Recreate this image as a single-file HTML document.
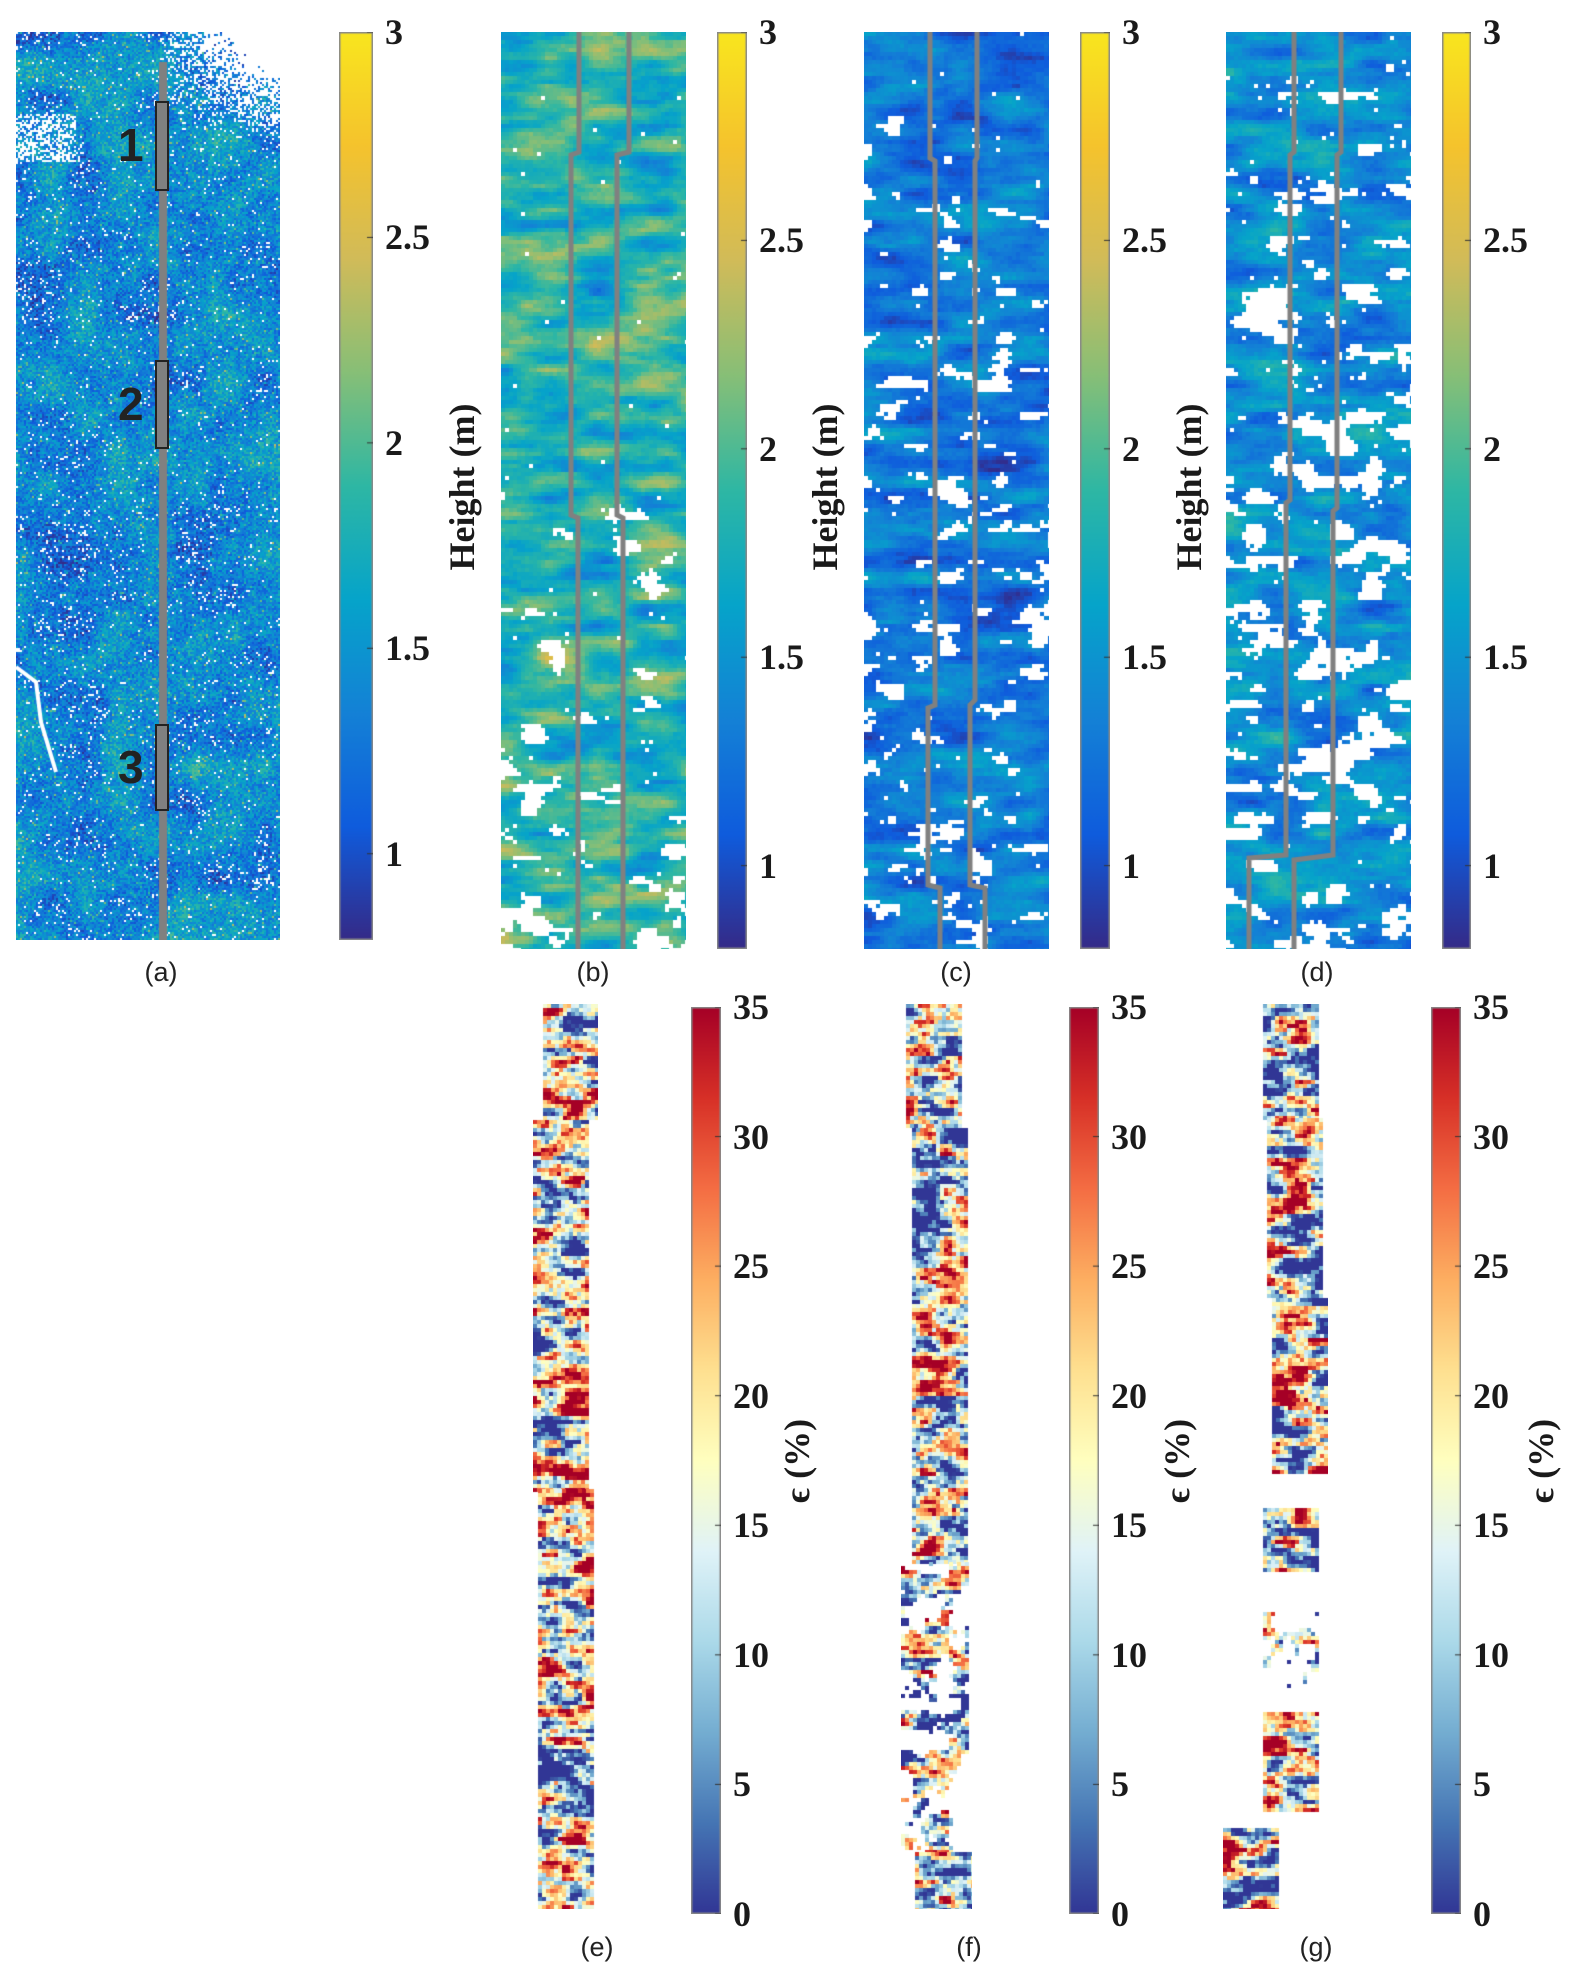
<!DOCTYPE html>
<html><head><meta charset="utf-8">
<style>
html,body{margin:0;padding:0;background:#fff;}
body{width:1585px;height:1978px;position:relative;overflow:hidden;font-family:"Liberation Serif",serif;}
.abs{position:absolute;}
canvas{position:absolute;}
.tick{position:absolute;font-family:"Liberation Serif",serif;font-weight:bold;font-size:36px;color:#1a1a1a;line-height:1;}
.cap{position:absolute;font-family:"Liberation Sans",sans-serif;font-size:27px;color:#222;transform:translateX(-50%);}
.ylab{position:absolute;font-family:"Liberation Serif",serif;font-weight:bold;font-size:36px;color:#1a1a1a;transform:translate(-50%,-50%) rotate(-90deg);white-space:nowrap;}
.num{position:absolute;font-family:"Liberation Sans",sans-serif;font-weight:bold;font-size:46px;color:#222;}
</style></head>
<body>
<div id="root"></div>
<script>
// ---- data arrays ----
const heightTicks = [1, 1.5, 2, 2.5, 3];
const heightTickLabels = ["1", "1.5", "2", "2.5", "3"];
const heightRange = [0.8, 3];
const strainTicks = [0, 5, 10, 15, 20, 25, 30, 35];
const strainTickLabels = ["0", "5", "10", "15", "20", "25", "30", "35"];
const strainRange = [0, 35];
const panelCaptions = ["(a)", "(b)", "(c)", "(d)", "(e)", "(f)", "(g)"];
const panelMeans = [1.4, 1.85, 1.3, 1.45];
const strainMeans = [16, 13, 14];

const root = document.getElementById('root');
const parula = [[53,42,135],[15,92,221],[20,129,214],[6,164,202],[46,183,164],[135,191,119],[209,187,89],[245,195,45],[249,230,30]];
const rdylbu = [[49,54,149],[69,117,180],[116,173,209],[171,217,233],[224,243,248],[255,255,191],[254,224,144],[253,174,97],[244,109,67],[215,48,39],[165,0,38]];
function cmap(stops,t){t=Math.max(0,Math.min(1,t));const f=t*(stops.length-1);const i=Math.min(stops.length-2,Math.floor(f));const u=f-i;const a=stops[i],b=stops[i+1];return [a[0]+(b[0]-a[0])*u|0,a[1]+(b[1]-a[1])*u|0,a[2]+(b[2]-a[2])*u|0];}
function hash(x,y,s){let h=(x*374761393+y*668265263+s*1442695041)|0;h=(h^(h>>>13))*1274126177|0;h=h^(h>>>16);return ((h>>>0)%100000)/100000;}
function vnoise(x,y,s){const xi=Math.floor(x),yi=Math.floor(y);const xf=x-xi,yf=y-yi;const u=xf*xf*(3-2*xf),v=yf*yf*(3-2*yf);
 const a=hash(xi,yi,s),b=hash(xi+1,yi,s),c=hash(xi,yi+1,s),d=hash(xi+1,yi+1,s);return a+(b-a)*u+(c-a)*v+(a-b-c+d)*u*v;}
function fbm(x,y,s){return (vnoise(x,y,s)*0.55+vnoise(x*2.1,y*2.1,s+7)*0.3+vnoise(x*4.3,y*4.3,s+13)*0.15);}

function mkCanvas(name,x,y,w,h){const c=document.createElement('canvas');c.width=w;c.height=h;c.style.left=x+'px';c.style.top=y+'px';
 
 
 root.appendChild(c);return c.getContext('2d');}
function rgb(c){return 'rgb('+c[0]+','+c[1]+','+c[2]+')';}
function hnorm(v){return (v-heightRange[0])/(heightRange[1]-heightRange[0]);}

// ---- panel (a) ----
(function(){const x0=16,y0=32,w=264,h=908;const ctx=mkCanvas('map-overview',x0,y0,w,h);
 for(let y=0;y<h;y+=2)for(let x=0;x<w;x+=2){
  const n=fbm(x/35,y/35,3);const r=hash(x,y,9);
  let white=r<0.025+(n<0.38?0.08:0);
  if(x>w*0.5&&y<110&&hash(x,y,4)<(x-w*0.5)/(w*0.5)*(1-y/110)*1.6)white=true;
  if(x<60&&y>80&&y<130&&hash(x,y,6)<0.5)white=true;
  if(white)continue;
  let v=panelMeans[0]+1.0*(n-0.5)+0.6*(hash(x,y,11)-0.5);
  if(hash(x,y,12)<0.04)v+=0.5;
  ctx.fillStyle=rgb(cmap(parula,hnorm(v)));ctx.fillRect(x,y,2,2);}
 ctx.strokeStyle='#fff';ctx.lineWidth=4;ctx.beginPath();ctx.moveTo(0,635);ctx.lineTo(20,650);ctx.lineTo(25,690);ctx.lineTo(40,740);ctx.stroke();
 ctx.fillStyle='#808080';ctx.fillRect(143,30,8,h-30);
})();
[[101,187,'1'],[360,445,'2'],[724,807,'3']].forEach((b)=>{
 const d=document.createElement('div');d.className='abs';d.style.cssText=`left:155px;top:${b[0]}px;width:10px;height:${b[1]-b[0]}px;border:2px solid #222;background:#808080;`;
 
 
 root.appendChild(d);
 const t=document.createElement('div');t.className='num';t.textContent=b[2];t.style.left='118px';t.style.top=(b[0]+(b[1]-b[0])/2-26)+'px';
 
 
 root.appendChild(t);});

// ---- panels b,c,d ----
const hmPanels=[
 {name:'height-map-b',x:501,seed:21,mean:panelMeans[1],holeStart:440,holeT:0.37,amp:1.5,
  lines:[[[579,32],[579,152],[571,155],[571,515],[578,518],[578,949]],[[629,32],[629,152],[617,155],[617,515],[623,518],[623,949]]]},
 {name:'height-map-c',x:864,seed:41,mean:panelMeans[2],holeStart:80,holeT:0.35,amp:1.1,
  lines:[[[930,32],[930,158],[935,161],[935,705],[928,708],[928,885],[940,888],[940,949]],[[977,32],[977,158],[975,161],[975,700],[970,705],[970,885],[985,888],[985,949]]]},
 {name:'height-map-d',x:1226,seed:61,mean:panelMeans[3],holeStart:20,holeT:0.38,amp:1.2,
  lines:[[[1294,32],[1294,152],[1290,155],[1290,500],[1286,503],[1286,855],[1249,858],[1249,949]],[[1341,32],[1341,152],[1337,155],[1337,508],[1333,511],[1333,855],[1294,860],[1294,949]]]}
];
hmPanels.forEach(p=>{const y0=32,w=185,h=917;const ctx=mkCanvas(p.name,p.x,y0,w,h);
 for(let y=0;y<h;y+=4)for(let x=0;x<w;x+=4){
  const n=fbm(x/50,y/16,p.seed);const hn=fbm(x/28,y/16,p.seed+100);
  const grow=Math.min(1,(y-p.holeStart)/300);
  if(y>p.holeStart&&hn<p.holeT*(0.75+0.25*grow))continue;
  if(hash(x,y,p.seed)<0.004)continue;
  const v=p.mean+p.amp*(n-0.5)+0.1*(hash(x,y,p.seed+3)-0.5);
  ctx.fillStyle=rgb(cmap(parula,hnorm(v)));ctx.fillRect(x,y,4,4);}
 ctx.strokeStyle='#808080';ctx.lineWidth=5;
 p.lines.forEach(l=>{ctx.beginPath();l.forEach((pt,i)=>{const X=pt[0]-p.x,Y=pt[1]-y0;i?ctx.lineTo(X,Y):ctx.moveTo(X,Y);});ctx.stroke();});
});

// ---- colorbars ----
function colorbar(name,x,y0,y1,w,stops,ticks,labels,range,labelX,labelText,labelY){
 const ctx=mkCanvas(name,x,y0,w,y1-y0);const h=y1-y0;
 const g=ctx.createLinearGradient(0,h,0,0);stops.forEach((s,i)=>g.addColorStop(i/(stops.length-1),rgb(s)));
 ctx.fillStyle=g;ctx.fillRect(0,0,w,h);ctx.strokeStyle='#888';ctx.lineWidth=1.5;ctx.strokeRect(0.75,0.75,w-1.5,h-1.5);
 const ys=v=>y1-(v-range[0])/(range[1]-range[0])*h;
 ticks.forEach((t,i)=>{const Y=ys(t);ctx.strokeStyle='#333';ctx.lineWidth=1;ctx.beginPath();ctx.moveTo(w-6,Y-y0);ctx.lineTo(w,Y-y0);ctx.stroke();
  const d=document.createElement('div');d.className='tick';d.textContent=labels[i];d.style.left=(x+w+12)+'px';d.style.top=(Y-18)+'px';
  
  
  root.appendChild(d);});
 if(labelText){const d=document.createElement('div');d.className='ylab';d.innerHTML=labelText;d.style.left=labelX+'px';d.style.top=labelY+'px';
  
  
  root.appendChild(d);}
}
colorbar('colorbar-a',339,32,940,34,parula,heightTicks,heightTickLabels,[0.79,3],0,null);
colorbar('colorbar-b',717,32,949,30,parula,heightTicks,heightTickLabels,[0.8,3],462,'Height (m)',487);
colorbar('colorbar-c',1080,32,949,30,parula,heightTicks,heightTickLabels,[0.8,3],825,'Height (m)',487);
colorbar('colorbar-d',1442,32,949,29,parula,heightTicks,heightTickLabels,[0.8,3],1189,'Height (m)',487);
colorbar('colorbar-e',691,1007,1914,30,rdylbu,strainTicks,strainTickLabels,strainRange,797,'&#1013; (%)',1461);
colorbar('colorbar-f',1069,1007,1914,30,rdylbu,strainTicks,strainTickLabels,strainRange,1177,'&#1013; (%)',1461);
colorbar('colorbar-g',1431,1007,1914,30,rdylbu,strainTicks,strainTickLabels,strainRange,1541,'&#1013; (%)',1461);

// ---- strain strips e,f,g ----
const strips=[
 {name:'strain-map-e',seed:5,mean:strainMeans[0],segs:[[543,598,1004,1118],[533,589,1120,1489],[538,593,1489,1909]]},
 {name:'strain-map-f',seed:15,mean:strainMeans[1],segs:[[906,961,1004,1128],[912,966,1128,1562],[901,967,1562,1852],[915,972,1852,1909]],fr:[2]},
 {name:'strain-map-g',seed:25,mean:strainMeans[2],segs:[[1263,1318,1004,1118],[1267,1323,1118,1298],[1272,1328,1298,1473],[1263,1318,1508,1572],[1263,1318,1612,1690],[1263,1318,1712,1811],[1223,1277,1828,1909]],fr:[4]}
];
strips.forEach(s=>{const xs=Math.min(...s.segs.map(q=>q[0])),xe=Math.max(...s.segs.map(q=>q[1]));const ys=1004,ye=1909;
 const ctx=mkCanvas(s.name,xs,ys,xe-xs,ye-ys);
 s.segs.forEach((q,qi)=>{const frag=s.fr&&s.fr.includes(qi);
  for(let y=q[2];y<q[3];y+=4)for(let x=q[0];x<q[1];x+=4){
   const n=fbm(x/22,y/10,s.seed);const big=fbm(x/30,y/30,s.seed+9);const r=hash(x,y,s.seed+1);
   if(frag&&fbm(x/20,y/20,s.seed+50)<0.52)continue;
   let v=s.mean+80*(n-0.5)+40*(big-0.5)+10*(r-0.5);
   ctx.fillStyle=rgb(cmap(rdylbu,v/35));ctx.fillRect(x-xs,y-ys,4,4);}});
});

// captions
[[161,957],[593,957],[956,957],[1317,957],[597,1932],[969,1932],[1316,1932]].forEach((c,i)=>{
 const d=document.createElement('div');d.className='cap';d.textContent=panelCaptions[i];d.style.left=c[0]+'px';d.style.top=c[1]+'px';
 
 
 root.appendChild(d);});
</script>
</body></html>
